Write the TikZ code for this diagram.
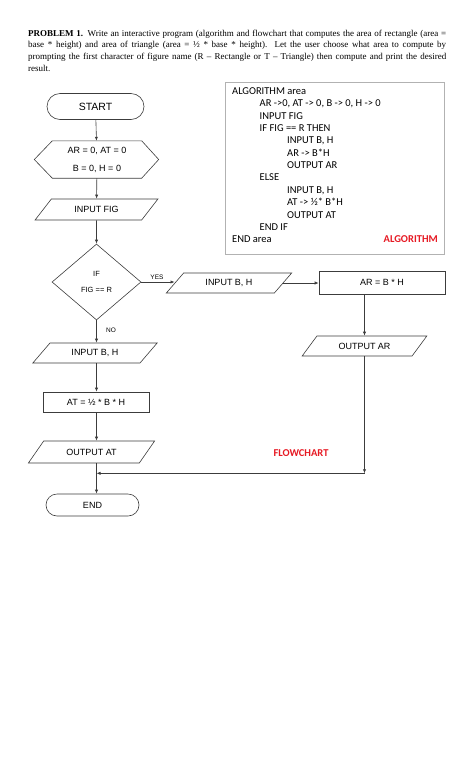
\documentclass[tikz,border=0pt]{standalone}
\usepackage{fontspec}
\setmainfont{Liberation Serif}
\newfontfamily\helv{Liberation Sans}
\newfontfamily\calib{Carlito}
\usetikzlibrary{arrows.meta,positioning,calc,shapes.geometric}
\definecolor{alred}{RGB}{230,25,35}
\definecolor{flowgray}{RGB}{60,60,60}
\tikzset{>={Latex[length=4pt,width=3.2pt]}, line/.style={line width=0.6pt, draw=flowgray},
shape line/.style={draw=flowgray, line width=0.6pt},
terminal/.style={shape line, rounded corners=11pt, minimum width=93pt, minimum height=22pt, font=\helv\fontsize{9}{10}\selectfont},
io/.style={trapezium, trapezium left angle=45, trapezium right angle=135, trapezium stretches=true, shape line, minimum width=125pt, minimum height=20pt, inner sep=1pt, font=\helv\fontsize{9}{10}\selectfont},
process/.style={shape line, minimum width=106pt, minimum height=20pt, font=\helv\fontsize{9}{10}\selectfont},
decision/.style={diamond, shape line, minimum width=89pt, minimum height=76pt, inner sep=0pt, align=center, font=\helv\fontsize{7.5}{16}\selectfont},
note/.style={font=\helv\fontsize{6.5}{7}\selectfont, inner sep=1pt},
algline/.style={font=\calib\fontsize{10.5}{12}\selectfont, anchor=base west, inner sep=0pt},
tag/.style={font=\calib\bfseries\fontsize{10.5}{12}\selectfont, text=alred, inner sep=0pt}}

\begin{document}
\begin{tikzpicture}[x=1pt, y=-1pt]
\useasboundingbox (0,0) rectangle (474,780);

% problem statement
\node[anchor=north west, inner sep=0pt, text width=418pt, align=justify, font=\fontsize{9}{11.7}\selectfont] (problem) at (28,29.5)
{\textbf{PROBLEM 1.} Write an interactive program (algorithm and flowchart that computes the area of rectangle (area =\linebreak base * height) and area of triangle (area = ½ * base * height). Let the user choose what area to compute by\linebreak prompting the first character of figure name (R – Rectangle or T – Triangle) then compute and print the desired\linebreak result.};

% algorithm box
\node[draw=black!30, line width=0.7pt, minimum width=219pt, minimum height=172pt] (algbox) at (334.5,168) {};
\foreach \lvl/\txt [count=\i from 0] in {0/ALGORITHM area, 1/{AR ->0, AT -> 0, B -> 0, H -> 0}, 1/INPUT FIG, 1/IF FIG == R THEN,
  2/{INPUT B, H}, 2/AR -> B*H, 2/OUTPUT AR, 1/ELSE, 2/{INPUT B, H}, 2/AT -> ½* B*H, 2/OUTPUT AT, 1/END IF, 0/END area} {
  \node[algline] (alg\i) at ({232+27.5*\lvl}, {94.5+12.35*\i}) {\txt};
}
\node[tag, anchor=base east] (algtag) at (438,242.8) {ALGORITHM};

% flowchart, left column
\node[terminal, rounded corners=13pt, minimum width=97pt, minimum height=26pt, font=\helv\fontsize{10.5}{12}\selectfont] (start) at (95.5,106.5) {START};
\node[minimum width=89pt, minimum height=37pt, inner sep=0pt, align=center, font=\helv\fontsize{9}{18}\selectfont] (init) at (97,159.5) {AR = 0, AT = 0\\B = 0, H = 0};
\draw[shape line] (init.north west) -- (init.north east) -- ($(init.east)+(17,0)$) -- (init.south east)
  -- (init.south west) -- ($(init.west)+(-18,0)$) -- cycle;
\node[io, minimum width=123pt, minimum height=21pt] (infig) at (96.5,209.5) {INPUT FIG};
\node[decision] (dec) at (96.5,282) {IF\\FIG == R};
\node[io] (inbhno) at (95,353) {INPUT B, H};
\node[process] (at) at (96,402) {AT = ½ * B * H};
\node[io, minimum width=127pt, minimum height=22pt] (outat) at (91.5,452) {OUTPUT AT};
\node[terminal] (finish) at (92.5,505) {END};

% flowchart, right branch
\node[io, minimum width=126pt] (inbhyes) at (229,283) {INPUT B, H};
\node[process, minimum width=126pt, minimum height=23pt] (ar) at (382,282.5) {AR = B * H};
\node[io] (outar) at (364.5,346) {OUTPUT AR};
\coordinate (join) at ($(outar.south)+(0,117)$);

\node[note] (yes) at (157,277) {YES};
\node[note] (no) at (111,330) {NO};
\node[tag] (flowtag) at (301,453) {FLOWCHART};

\draw[->,line] (start) -- (init);
\draw[->,line] (init) -- (infig);
\draw[->,line] (infig) -- (dec);
\draw[->,line] (dec.east) -- (dec.east -| inbhyes.west);
\draw[->,line] (inbhyes.east) -- (inbhyes.east -| ar.west);
\draw[->,line] (ar.south -| outar) -- (outar.north);
\draw[->,line] (outar.south) -- (join);
\draw[->,line] (dec.south) -- (inbhno.north -| dec.south);
\draw[->,line] (inbhno.south -| dec.south) -- (at.north -| dec.south);
\draw[->,line] (at.south -| dec.south) -- (outat.north -| dec.south);
\draw[->,line] (outat.south -| dec.south) -- (finish.north -| dec.south);
\draw[->,line] (join) -- (join -| dec.south);
\end{tikzpicture}
\end{document}
